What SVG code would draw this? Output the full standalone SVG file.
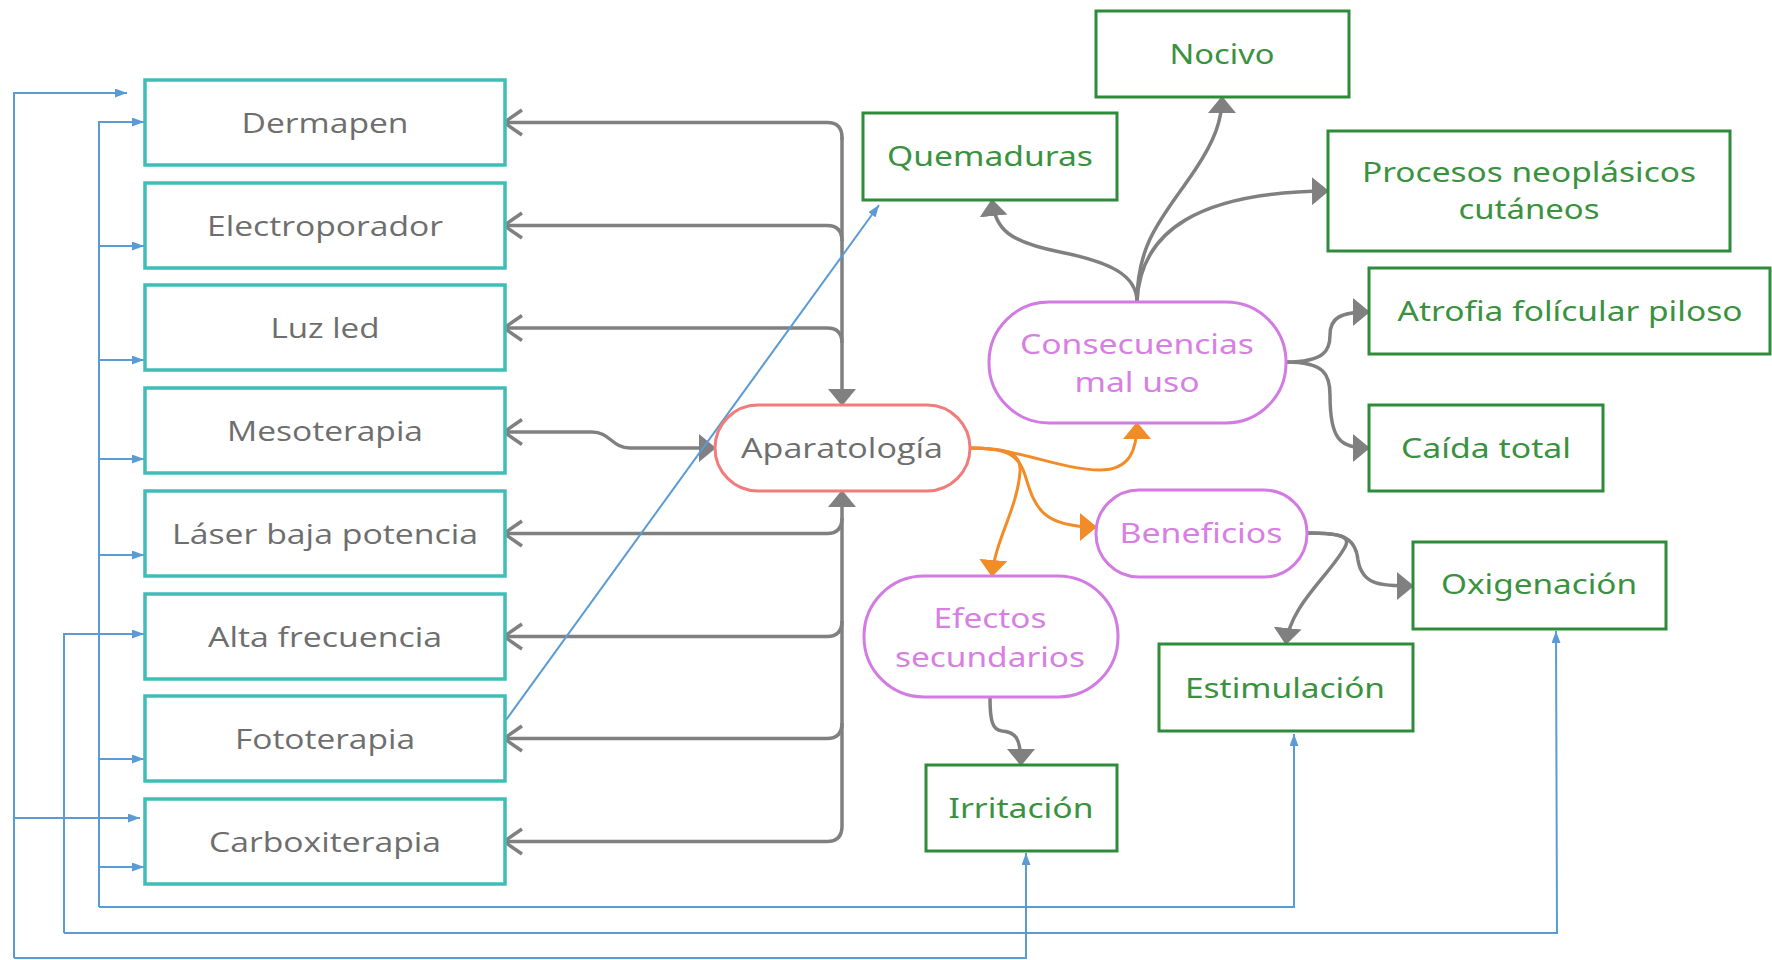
<svg xmlns="http://www.w3.org/2000/svg" width="1772" height="960" viewBox="0 0 1772 960">
<style>
.box{fill:#fff;stroke:#3fbdb7;stroke-width:3.5}
.gbox{fill:#fff;stroke:#2e8b3a;stroke-width:3}
.pill{fill:#fff;stroke:#d27be2;stroke-width:3}
.apill{fill:#fff;stroke:#f27b7b;stroke-width:3}
.t{font-family:'Open Sans','Noto Sans',sans-serif;font-size:28px;fill:#6e6e6e;text-anchor:middle}
.tg{font-family:'Noto Sans','Open Sans',sans-serif;fill:#3a923f}
.tp{font-family:'Noto Sans','Open Sans',sans-serif;fill:#d77fe3}
.gl{fill:none;stroke:#808080;stroke-width:3.5}
.ol{fill:none;stroke:#f28c28;stroke-width:3}
.bl{fill:none;stroke:#5b9bd5;stroke-width:2}
</style>
<defs>
<marker id="tri" markerUnits="userSpaceOnUse" viewBox="0 0 17 28" markerWidth="17" markerHeight="28" refX="16" refY="14" orient="auto"><path d="M0,0 L17,14 L0,28 z" fill="#808080"/></marker>
<marker id="otri" markerUnits="userSpaceOnUse" viewBox="0 0 17 28" markerWidth="17" markerHeight="28" refX="16" refY="14" orient="auto"><path d="M0,0 L17,14 L0,28 z" fill="#f28c28"/></marker>
<marker id="chev" markerUnits="userSpaceOnUse" viewBox="-3 -3 24 31" markerWidth="24" markerHeight="31" refX="17" refY="12.5" orient="auto-start-reverse"><path d="M0,0 L18,12.5 L0,25" fill="none" stroke="#808080" stroke-width="3.5"/></marker>
<marker id="barr" markerUnits="userSpaceOnUse" viewBox="0 0 12 9" markerWidth="12" markerHeight="9" refX="12" refY="4.5" orient="auto"><path d="M0,0 L12,4.5 L0,9 z" fill="#5b9bd5"/></marker>
</defs>
<rect width="1772" height="960" fill="#fff"/>

<g id="connectors">
<path class="gl" d="M842,137 L842,405" marker-end="url(#tri)"/>
<path class="gl" d="M842,826 L842,491" marker-end="url(#tri)"/>
<path class="gl" d="M842,140 L842,137.5 Q842,122.5 827,122.5 L505,122.5" marker-end="url(#chev)"/>
<path class="gl" d="M842,241 Q842,225.5 827,225.5 L505,225.5" marker-end="url(#chev)"/>
<path class="gl" d="M842,343 Q842,328 827,328 L505,328" marker-end="url(#chev)"/>
<path class="gl" d="M505,432 L592,432 C610,432 612,448 630,448 L715,448" marker-start="url(#chev)" marker-end="url(#tri)"/>
<path class="gl" d="M842,518 Q842,533.5 827,533.5 L505,533.5" marker-end="url(#chev)"/>
<path class="gl" d="M842,621 Q842,636.5 827,636.5 L505,636.5" marker-end="url(#chev)"/>
<path class="gl" d="M842,723 Q842,738.5 827,738.5 L505,738.5" marker-end="url(#chev)"/>
<path class="gl" d="M842,826 Q842,841.5 827,841.5 L505,841.5" marker-end="url(#chev)"/>
<path class="ol" d="M970,448 C1020,448 1060,470 1100,470 C1130,470 1137,450 1137,423" marker-end="url(#otri)"/>
<path class="ol" d="M970,448 C1002,448 1018,452 1025,475 C1035,508 1042,527 1096,527" marker-end="url(#otri)"/>
<path class="ol" d="M970,448 C1005,448 1022,452 1020,472 C1017,510 995,540 992,576" marker-end="url(#otri)"/>
<path class="gl" d="M1137,302 C1137,275 1110,262 1060,252 C1010,242 995,230 992,200" marker-end="url(#tri)"/>
<path class="gl" d="M1137,302 C1137,240 1165,215 1195,170 C1215,140 1222,120 1222,97" marker-end="url(#tri)"/>
<path class="gl" d="M1137,302 C1140,230 1200,192 1328,191" marker-end="url(#tri)"/>
<path class="gl" d="M1286,362 C1325,362 1330,350 1330,335 C1330,318 1340,312 1369,312" marker-end="url(#tri)"/>
<path class="gl" d="M1286,362 C1325,362 1330,375 1330,395 C1330,440 1340,448 1369,448" marker-end="url(#tri)"/>
<path class="gl" d="M1307,533 C1340,533 1355,535 1358,560 C1362,585 1380,586 1413,586" marker-end="url(#tri)"/>
<path class="gl" d="M1307,533 C1335,533 1352,535 1345,547 C1330,575 1290,605 1286,644" marker-end="url(#tri)"/>
<path class="gl" d="M990,697 C990,720 992,730 1002,731 C1015,732 1021,737 1021,765" marker-end="url(#tri)"/>
<path class="bl" d="M506,720 L879,205" marker-end="url(#barr)"/>
<path class="bl" d="M14,958 L14,93 L127,93" marker-end="url(#barr)"/>
<path class="bl" d="M14,818 L140,818" marker-end="url(#barr)"/>
<path class="bl" d="M14,958 L1026,958 L1026,853" marker-end="url(#barr)"/>
<path class="bl" d="M99,907 L99,122 L144,122" marker-end="url(#barr)"/>
<path class="bl" d="M99,246 L144,246" marker-end="url(#barr)"/>
<path class="bl" d="M99,360 L144,360" marker-end="url(#barr)"/>
<path class="bl" d="M99,459 L144,459" marker-end="url(#barr)"/>
<path class="bl" d="M99,555 L144,555" marker-end="url(#barr)"/>
<path class="bl" d="M99,759 L144,759" marker-end="url(#barr)"/>
<path class="bl" d="M99,867 L144,867" marker-end="url(#barr)"/>
<path class="bl" d="M99,907 L1294,907 L1294,734" marker-end="url(#barr)"/>
<path class="bl" d="M64,933 L64,634 L144,634" marker-end="url(#barr)"/>
<path class="bl" d="M64,933 L1557,933 L1556,631" marker-end="url(#barr)"/>
</g>

<g id="dermapen"><rect class="box" x="145" y="80" width="360" height="85"/><text class="t" x="325" y="132.5" textLength="167" lengthAdjust="spacingAndGlyphs">Dermapen</text></g>
<g id="electroporador"><rect class="box" x="145" y="183" width="360" height="85"/><text class="t" x="325" y="235.5" textLength="236" lengthAdjust="spacingAndGlyphs">Electroporador</text></g>
<g id="luzled"><rect class="box" x="145" y="285" width="360" height="85"/><text class="t" x="325" y="337.5" textLength="109" lengthAdjust="spacingAndGlyphs">Luz led</text></g>
<g id="mesoterapia"><rect class="box" x="145" y="388" width="360" height="85"/><text class="t" x="325" y="440.5" textLength="196" lengthAdjust="spacingAndGlyphs">Mesoterapia</text></g>
<g id="laser"><rect class="box" x="145" y="491" width="360" height="85"/><text class="t" x="325" y="543.5" textLength="306" lengthAdjust="spacingAndGlyphs">Láser baja potencia</text></g>
<g id="altafrecuencia"><rect class="box" x="145" y="594" width="360" height="85"/><text class="t" x="325" y="646.5" textLength="234" lengthAdjust="spacingAndGlyphs">Alta frecuencia</text></g>
<g id="fototerapia"><rect class="box" x="145" y="696" width="360" height="85"/><text class="t" x="325" y="748.5" textLength="180" lengthAdjust="spacingAndGlyphs">Fototerapia</text></g>
<g id="carboxiterapia"><rect class="box" x="145" y="799" width="360" height="85"/><text class="t" x="325" y="851.5" textLength="232" lengthAdjust="spacingAndGlyphs">Carboxiterapia</text></g>

<g id="aparatologia"><rect class="apill" x="715" y="405" width="255" height="86" rx="43"/><text class="t" x="842" y="458" textLength="202" lengthAdjust="spacingAndGlyphs">Aparatología</text></g>

<g id="nocivo"><rect class="gbox" x="1096" y="11" width="253" height="86"/><text class="t tg" x="1222" y="64" textLength="105" lengthAdjust="spacingAndGlyphs">Nocivo</text></g>
<g id="quemaduras"><rect class="gbox" x="863" y="113" width="254" height="87"/><text class="t tg" x="990" y="166" textLength="206" lengthAdjust="spacingAndGlyphs">Quemaduras</text></g>
<g id="procesos"><rect class="gbox" x="1328" y="131" width="402" height="120"/><text class="t tg" x="1529" y="182" textLength="334" lengthAdjust="spacingAndGlyphs">Procesos neoplásicos</text><text class="t tg" x="1529" y="218.5" textLength="141" lengthAdjust="spacingAndGlyphs">cutáneos</text></g>
<g id="atrofia"><rect class="gbox" x="1369" y="268" width="401" height="86"/><text class="t tg" x="1570" y="320.5" textLength="345" lengthAdjust="spacingAndGlyphs">Atrofia folícular piloso</text></g>
<g id="caida"><rect class="gbox" x="1369" y="405" width="234" height="86"/><text class="t tg" x="1486" y="458" textLength="170" lengthAdjust="spacingAndGlyphs">Caída total</text></g>
<g id="consecuencias"><rect class="pill" x="989" y="302" width="297" height="121" rx="60"/><text class="t tp" x="1137" y="353.5" textLength="234" lengthAdjust="spacingAndGlyphs">Consecuencias</text><text class="t tp" x="1137" y="392" textLength="125" lengthAdjust="spacingAndGlyphs">mal uso</text></g>
<g id="beneficios"><rect class="pill" x="1096" y="490" width="211" height="87" rx="43"/><text class="t tp" x="1201" y="543" textLength="163" lengthAdjust="spacingAndGlyphs">Beneficios</text></g>
<g id="efectos"><rect class="pill" x="864" y="576" width="254" height="121" rx="60"/><text class="t tp" x="990" y="628" textLength="113" lengthAdjust="spacingAndGlyphs">Efectos</text><text class="t tp" x="990" y="666.5" textLength="190" lengthAdjust="spacingAndGlyphs">secundarios</text></g>
<g id="oxigenacion"><rect class="gbox" x="1413" y="542" width="253" height="87"/><text class="t tg" x="1539" y="594" textLength="196" lengthAdjust="spacingAndGlyphs">Oxigenación</text></g>
<g id="estimulacion"><rect class="gbox" x="1159" y="644" width="254" height="87"/><text class="t tg" x="1285" y="698" textLength="200" lengthAdjust="spacingAndGlyphs">Estimulación</text></g>
<g id="irritacion"><rect class="gbox" x="926" y="765" width="191" height="86"/><text class="t tg" x="1021" y="818" textLength="145" lengthAdjust="spacingAndGlyphs">Irritación</text></g>
</svg>
